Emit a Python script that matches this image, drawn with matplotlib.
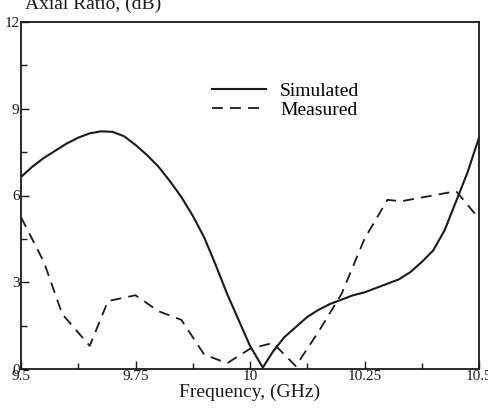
import numpy as np
import matplotlib
matplotlib.use('Agg')
import matplotlib.pyplot as plt
from matplotlib.ticker import MultipleLocator

plt.rcParams['font.family'] = ['Liberation Serif', 'DejaVu Serif']

# simulated axial ratio
sim_f = [9.5, 9.525, 9.55, 9.575, 9.6, 9.625, 9.65, 9.675, 9.7, 9.725, 9.75,
         9.775, 9.8, 9.825, 9.85, 9.875, 9.9, 9.925, 9.95, 9.975, 10.0, 10.028,
         10.05, 10.075, 10.1, 10.125, 10.15, 10.175, 10.2, 10.225, 10.25, 10.275,
         10.3, 10.325, 10.35, 10.375, 10.4, 10.425, 10.45, 10.475, 10.5]
sim_ar = [6.64, 7.0, 7.3, 7.55, 7.8, 8.0, 8.15, 8.22, 8.2, 8.05, 7.75,
          7.4, 7.0, 6.5, 5.95, 5.3, 4.55, 3.6, 2.6, 1.7, 0.8, 0.05,
          0.6, 1.1, 1.45, 1.8, 2.05, 2.25, 2.4, 2.55, 2.65, 2.8,
          2.95, 3.1, 3.35, 3.7, 4.1, 4.8, 5.8, 6.8, 8.0]

# measured axial ratio
meas_f = [9.5, 9.55, 9.59, 9.65, 9.69, 9.75, 9.8, 9.85, 9.9, 9.95, 10.0,
          10.05, 10.1, 10.15, 10.2, 10.25, 10.3, 10.33, 10.45, 10.5]
meas_ar = [5.25, 3.7, 1.9, 0.8, 2.35, 2.55, 2.0, 1.7, 0.5, 0.2, 0.7,
           0.9, 0.1, 1.3, 2.6, 4.5, 5.85, 5.8, 6.15, 5.2]

xticks = [9.5, 9.75, 10, 10.25, 10.5]
xticklabels = ['9.5', '9.75', '10', '10.25', '10.5']
yticks = [0, 3, 6, 9, 12]

fig = plt.figure(figsize=(4.88, 4.08), dpi=100)
ax = fig.add_axes([21/488, 1 - 369/408, 458/488, 347/408])

lc = '#1a1a1a'
ax.plot(sim_f, sim_ar, color=lc, lw=1.5, label='Simulated')
ax.plot(meas_f, meas_ar, color=lc, lw=1.3, ls=(0, (6, 4)), label='Measured')

ax.set_xlim(9.5, 10.5)
ax.set_ylim(0, 12)
ax.set_xticks(xticks)
ax.set_xticklabels(xticklabels)
ax.set_yticks(yticks)
ax.xaxis.set_minor_locator(MultipleLocator(0.125))
ax.yaxis.set_minor_locator(MultipleLocator(1.5))
ax.tick_params(which='both', direction='in', labelsize=11, colors=lc, pad=1)
ax.tick_params(which='major', length=6, width=1)
ax.tick_params(which='minor', length=4, width=1)
for s in ax.spines.values():
    s.set_color(lc)
    s.set_linewidth(1.3)

ax.set_xlabel('Frequency, (GHz)', fontsize=14, color=lc, labelpad=0)
fig.text(25/488, 1 - 4/408, 'Axial Ratio, (dB)', fontsize=14, color=lc,
         ha='left', va='center')

ax.legend(loc='upper left', bbox_to_anchor=(0.4, 0.848), frameon=False,
          fontsize=14, handlelength=2.8, handletextpad=0.7, labelspacing=0.05,
          borderaxespad=0)

fig.savefig('out.png', dpi=100)
